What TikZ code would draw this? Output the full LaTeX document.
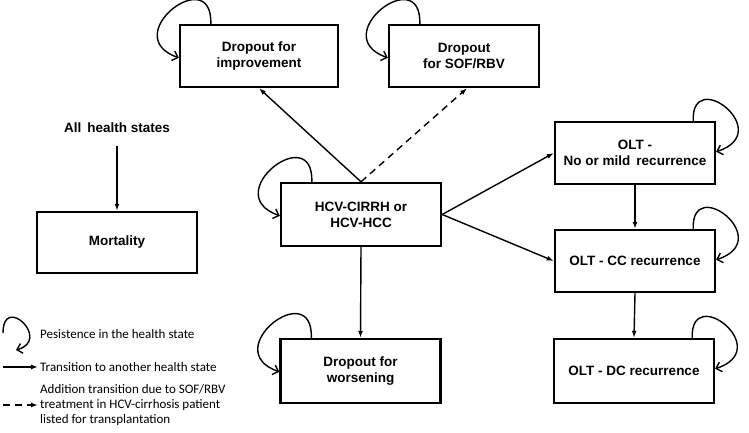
\documentclass[tikz,border=0pt]{standalone}
\usepackage{fontspec}
\setmainfont{Liberation Sans}
\newfontfamily\legendfont{Carlito}
\usetikzlibrary{arrows.meta}
\tikzset{>=latex}
\tikzset{
  state/.style={draw, line width=2.4pt, minimum width=160pt, minimum height=62pt,
    align=center, font=\fontsize{13.5}{16}\selectfont\bfseries},
  trans/.style={-{Latex[length=7pt,width=5pt]}, line width=1.4pt},
  extra/.style={trans, dash pattern=on 7pt off 5pt},
  stay/.style={-{Straight Barb[length=5pt,width=10pt]}, line width=1.4pt},
  legtext/.style={anchor=west, inner sep=1pt, align=left,
    font=\legendfont\fontsize{13}{15}\selectfont}
}

\begin{document}
\begin{tikzpicture}[x=1pt, y=1pt]
      \useasboundingbox (0,0) rectangle (749,432);
      % health states
      \node[state, minimum width=158pt] (imp) at (259,376) {Dropout for\\improvement};
      \node[state, minimum width=150pt] (sof) at (464,376) {Dropout\\for SOF/RBV};
      \node[state, minimum height=63pt] (hcv) at (361,217.5) {HCV-CIRRH or\\HCV-HCC};
      \node[state, minimum height=64pt] (wors) at (360.5,61) {Dropout for\\worsening};
      \node[state] (olt1) at (635,279) {OLT -\\No or mild\, recurrence};
      \node[state] (olt2) at (635,171) {OLT - CC recurrence};
      \node[state, minimum height=64pt] (olt3) at (634,61) {OLT - DC recurrence};
      \node[state, minimum height=61pt] (mort) at (117,189.5) {Mortality};
      \node[font=\fontsize{13.5}{16}\selectfont\bfseries] (allst) at (117,304) {All\, health states};

      \draw[trans] (allst.south) ++(0,-10) coordinate (alltop) (alltop) -- (mort.north);
      \draw[trans] (hcv.north) -- (imp.south);
      \draw[extra] (hcv.north) -- ([xshift=3pt]sof.south);
      \draw[trans] (hcv.east) -- (olt1.west);
      \draw[trans] (hcv.east) -- (olt2.west);
      \draw[trans] (hcv.south) -- (wors.north);
      \draw[trans] (olt1.south) -- (olt2.north);
      \draw[trans] (olt2.south) -- (olt3.north);

      % persistence loops
      \foreach \n in {imp,sof,hcv,wors}
        \draw[stay] ([xshift=32pt]\n.north west) .. controls +(2,62) and +(-62,22) .. ([yshift=-34pt]\n.north west);
      \foreach \n in {olt1,olt2,olt3}
        \draw[stay] ([xshift=-23pt]\n.north east) .. controls +(-2,55) and +(60,20) .. ([yshift=-31pt]\n.north east);

      % legend
      \node[legtext] (lgstay) at (39,98) {Pesistence in the health state};
      \node[legtext] (lgtrans) at (39,65) {Transition to another health state};
      \node[legtext] (lgextra) at (39,27) {Addition transition due to SOF/RBV\\treatment in HCV-cirrhosis patient\\listed for transplantation};
      \coordinate (ls) at (3,99);
      \coordinate (le) at (16,82);
      \coordinate (lt) at (3,65);
      \coordinate (lx) at (3,27);
      \draw[stay] (ls) .. controls +(0,40) and +(36,10) .. (le);
      \draw[trans] (lt) -- ([xshift=-1pt]lgtrans.west);
      \draw[extra] (lx) -- ([xshift=-1pt]lgextra.west);
\end{tikzpicture}
\end{document}
